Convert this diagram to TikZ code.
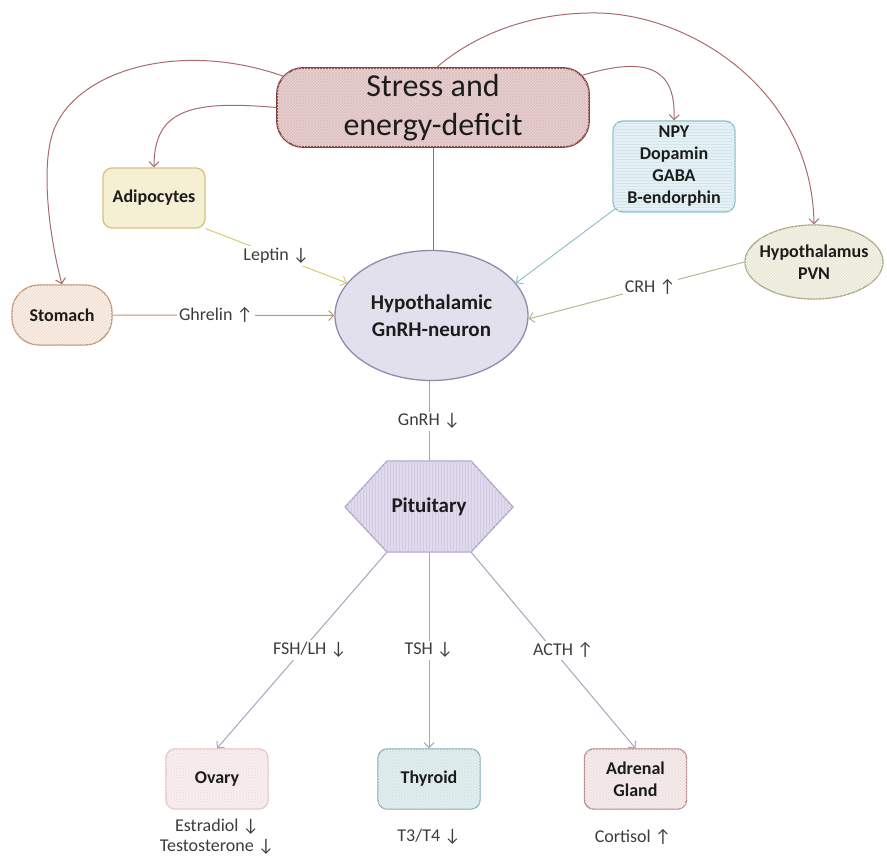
\documentclass[tikz,border=0pt]{standalone}
\usepackage{fontspec}
\setmainfont{Carlito}
\usetikzlibrary{arrows.meta,calc,shapes.geometric,patterns}

% palette
\definecolor{ink}{HTML}{1C1C1C}
\definecolor{lblink}{HTML}{3C3C3C}
\definecolor{stressfill}{HTML}{E9D3D3}
\definecolor{stresshatch}{HTML}{DDC0C0}
\definecolor{stressline}{HTML}{7E3C3C}
\definecolor{adipfill}{HTML}{F5EFD4}
\definecolor{adipline}{HTML}{D5C37C}
\definecolor{npyfill}{HTML}{E6F1F5}
\definecolor{npyhatch}{HTML}{D4E6ED}
\definecolor{npyline}{HTML}{8DBDCB}
\definecolor{pvnfill}{HTML}{F3F3E8}
\definecolor{pvnhatch}{HTML}{E2E2CC}
\definecolor{pvnline}{HTML}{A9A985}
\definecolor{stomfill}{HTML}{FAF0E9}
\definecolor{stomhatch}{HTML}{EDD8C8}
\definecolor{stomline}{HTML}{C39473}
\definecolor{gnrhfill}{HTML}{E2E0EC}
\definecolor{gnrhline}{HTML}{8E8CAE}
\definecolor{pitfill}{HTML}{E0DBEC}
\definecolor{pithatch}{HTML}{D2CBE3}
\definecolor{pitline}{HTML}{ADA6C8}
\definecolor{ovfill}{HTML}{FCF6F6}
\definecolor{ovhatch}{HTML}{F3E2E2}
\definecolor{ovline}{HTML}{E4BFBF}
\definecolor{thyfill}{HTML}{E8F2F2}
\definecolor{thyhatch}{HTML}{D5E6E6}
\definecolor{thyline}{HTML}{7CAEB5}
\definecolor{adrfill}{HTML}{F9F2F2}
\definecolor{adrhatch}{HTML}{EEDFDF}
\definecolor{adrline}{HTML}{B37F83}
% connector colours
\definecolor{arcc}{HTML}{A86C6C}
\definecolor{stemc}{HTML}{A86668}
\definecolor{leptinc}{HTML}{D9CB70}
\definecolor{ghrelinc}{HTML}{C39470}
\definecolor{npyc}{HTML}{8FBFCC}
\definecolor{crhc}{HTML}{B5B88F}
\definecolor{gnrhc}{HTML}{A4A4A4}
\definecolor{pitc}{HTML}{A9A3BD}

\newcommand\nodefont{\fontsize{18}{22}\selectfont\bfseries}
\newcommand\bigfont{\fontsize{21}{27}\selectfont\bfseries}
\newcommand\lblfont{\fontsize{18}{20}\selectfont}

\tikzset{
  box/.style={draw, rounded corners=9pt, line width=1.3pt, align=center,
    inner sep=0pt, text=ink, font=\nodefont,
    minimum width=102pt, minimum height=60pt},
  oval/.style={ellipse, draw, line width=1.3pt, align=center, inner sep=0pt, text=ink},
  hatched/.style 2 args={postaction={pattern=#1, pattern color=#2}},
  conn/.style={line width=1pt, -{Straight Barb[length=5pt,width=10pt]}},
  plain/.style={line width=1pt},
  lbl/.style={fill=white, inner sep=2pt, text=lblink, font=\lblfont, align=center},
  outtext/.style={text=lblink, font=\lblfont, align=center, inner sep=0pt},
}

\begin{document}
\begin{tikzpicture}[x=1pt,y=-1pt]
\useasboundingbox (0,0) rectangle (887,856);

% ---- nodes ----
\node[box, fill=stressfill, draw=stressline, line width=1.8pt, rounded corners=26pt,
  hatched={crosshatch}{stresshatch},
  minimum width=312pt, minimum height=79pt, font=\fontsize{32}{39}\selectfont]
  (stress) at (433,107.5) {Stress and\\energy-deficit};

\node[box, fill=adipfill, draw=adipline] (adip) at (154,198) {Adipocytes};

\node[box, fill=npyfill, draw=npyline, rounded corners=10pt,
  hatched={horizontal lines}{npyhatch},
  minimum width=122pt, minimum height=91pt] (npy) at (674,166.5)
  {NPY\\Dopamin\\GABA\\B-endorphin};

\node[oval, fill=pvnfill, draw=pvnline, minimum width=138pt, minimum height=74pt,
  hatched={north east lines}{pvnhatch},
  label={[font=\nodefont, text=ink, align=center]center:Hypothalamus\\PVN}]
  (pvn) at (814,262) {};

\node[box, fill=stomfill, draw=stomline, rounded corners=27pt,
  hatched={north east lines}{stomhatch},
  minimum width=100pt] (stomach) at (62,315) {Stomach};

\node[oval, fill=gnrhfill, draw=gnrhline, minimum width=193pt, minimum height=130pt,
  font=\bigfont] (gnrh) at (431.5,315.5) {Hypothalamic\\GnRH-neuron};

% pituitary hexagon
\coordinate (pc) at (429,507);
\coordinate (pN)  at (429,461);
\coordinate (pSW) at (387,552);
\coordinate (pS)  at (429,552);
\coordinate (pSE) at (471,552);
\filldraw[fill=pitfill, draw=pitline, line width=1.3pt, hatched={vertical lines}{pithatch}]
  (387,461) -- (471,461) -- (513,507) -- (471,552) -- (387,552) -- (345,507) -- cycle;
\node[font=\bigfont, text=ink] (pit) at (pc) {Pituitary};

\node[box, fill=ovfill, draw=ovline, hatched={crosshatch}{ovhatch}] (ovary) at (217,779) {Ovary};
\node[box, fill=thyfill, draw=thyline, hatched={crosshatch}{thyhatch}] (thyroid) at (429,779) {Thyroid};
\node[box, fill=adrfill, draw=adrline, hatched={crosshatch}{adrhatch}] (adrenal) at (635.5,779) {Adrenal\\Gland};

\node[outtext] (ovout) at (217,837) {Estradiol ↓\\Testosterone ↓};
\node[outtext] (thyout) at (429,837) {T3/T4 ↓};
\node[outtext] (adrout) at (633,837) {Cortisol ↑};

% ---- arcs out of the stress box ----
\draw[conn, draw=arcc] ($(stress.north west)+(7,9)$)
  .. controls (180,40) and (80,70) .. (55,127)
  .. controls (39,163) and (50,240) .. (stomach.north);
\draw[conn, draw=arcc] (stress.west)
  .. controls (190,100) and (154,110) .. (adip.north);
\draw[conn, draw=arcc] ($(stress.north east)+(-7,8)$)
  .. controls (650,55) and (676,70) .. (npy.north);
\draw[conn, draw=arcc] ($(stress.north)+(4,0)$)
  .. controls (480,30) and (540,12) .. (597,13)
  .. controls (690,14) and (812,90) .. (pvn.north);
\draw[plain, draw=stemc] (stress.south) -- (stress.south |- gnrh.north);

% ---- inputs to the GnRH neuron ----
\draw[conn, draw=leptinc] (adip.south east) -- node[lbl]{Leptin ↓} (gnrh);
\draw[conn, draw=ghrelinc] (stomach.east) -- node[lbl, pos=0.466]{Ghrelin ↑} (gnrh.west);
\draw[conn, draw=npyc] ($(npy.south west)+(3,-4)$) -- (gnrh.21);
\draw[conn, draw=crhc] (pvn.west) -- node[lbl, pos=0.436]{CRH ↑} (gnrh.-2);

% ---- axis downwards ----
\draw[plain, draw=gnrhc] (gnrh.south -| pN) -- node[lbl]{GnRH ↓} (pN);
\draw[conn, draw=pitc] (pSW) -- node[lbl, xshift=8pt]{FSH/LH ↓} (ovary.north);
\draw[conn, draw=pitc] (pS) -- node[lbl]{TSH ↓} (thyroid.north);
\draw[conn, draw=pitc] (pSE) -- node[lbl, xshift=10pt]{ACTH ↑} (adrenal.north);
\end{tikzpicture}
\end{document}
